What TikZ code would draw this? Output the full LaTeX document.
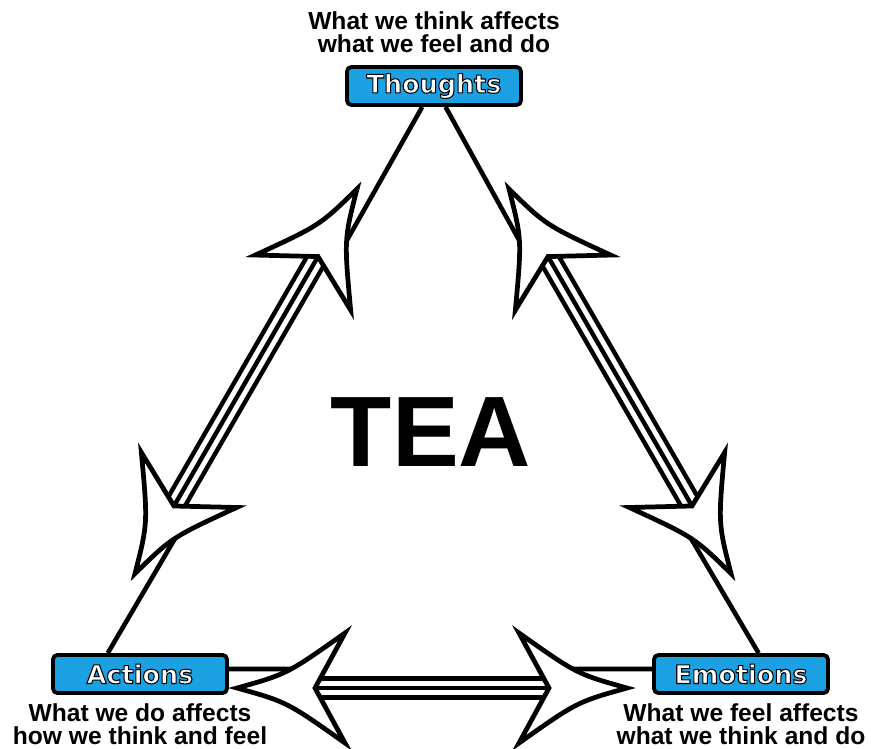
\documentclass[tikz,border=0pt]{standalone}
\usepackage{fontspec}
\setmainfont{Liberation Sans}
\newfontfamily\labelfont{DejaVu Sans}
\usetikzlibrary{positioning}
\definecolor{teablue}{RGB}{27,161,226}
\newcommand\outlined[1]{\special{pdf:literal direct 2 Tr 0.6 w 0 G}#1\special{pdf:literal direct 0 Tr}}
\tikzset{
	box/.style={draw, line width=2.2pt, rounded corners=2.5pt, fill=teablue, text=white, minimum width=3.48cm, minimum height=0.76cm, inner sep=0pt, font=\labelfont\bfseries\fontsize{14.5}{14.5}\selectfont},
	note/.style={align=center, inner sep=0pt, font=\bfseries\fontsize{14}{13.4}\selectfont},
	edge/.style={line width=2.6pt},
	shaft/.style={line width=2.5pt},
	head/.style={draw, fill=white, line width=2.7pt},
	pics/teaarrow/.style={code={
		\draw[shaft] (78,0) -- (#1-78,0);
		\draw[shaft] (80,9.5) -- (#1-80,9.5);
		\draw[shaft] (80,-9.5) -- (#1-80,-9.5);
		\draw[head] (0,0) .. controls (50,14) .. (108,55) -- (78,0) -- (108,-55) .. controls (50,-14) .. (0,0) -- cycle;
		\draw[head] (#1,0) .. controls (#1-50,14) .. (#1-108,55) -- (#1-78,0) -- (#1-108,-55) .. controls (#1-50,-14) .. (#1,0) -- cycle;
	}}
}

\begin{document}
\begin{tikzpicture}[x=0.02cm, y=-0.02cm]
	\useasboundingbox (0,0) rectangle (871,748);
	
	\node[box] (Thoughts) at (434,86) {\outlined{Thoughts}};
	\node[box] (Actions) at (140,674) {\outlined{Actions}};
	\node[box] (Emotions) at (741,674) {\outlined{Emotions}};
	
	\node[note, above=6.6pt of Thoughts] (thoughtsnote) {What we think affects\\what we feel and do};
	\node[note, below=4.5pt of Actions] (actionsnote) {What we do affects\\how we think and feel};
	\node[note, below=4.5pt of Emotions] (emotionsnote) {What we feel affects\\what we think and do};
	
	\node[font=\bfseries\fontsize{57}{57}\selectfont] (TEA) at (431,432) {TEA};
	
	\coordinate (TA1) at (357,189);
	\coordinate (TE1) at (509,189);
	\coordinate (AE1) at (237,688);
	
	\coordinate (ta1) at (341.7,249.5);
	\coordinate (ta2) at (179.7,530.5);
	\coordinate (te1) at (524.3,249.5);
	\coordinate (te2) at (686.3,530.5);
	\coordinate (ae1) at (297,669);
	\coordinate (ae2) at (567,669);
	
	\draw[edge] (Thoughts) -- (ta1);
	\draw[edge] (ta2) -- (Actions.147);
	\draw[edge] (Thoughts) -- (te1);
	\draw[edge] (te2) -- (Emotions.50);
	\draw[edge] ([yshift=0.1cm]Actions.east) -- (ae1);
	\draw[edge] (ae2) -- ([yshift=0.1cm]Emotions.west);
	
	\pic[rotate=240] at (TA1) {teaarrow=444};
	\pic[rotate=300] at (TE1) {teaarrow=444};
	\pic at (AE1) {teaarrow=390};
\end{tikzpicture}
\end{document}
